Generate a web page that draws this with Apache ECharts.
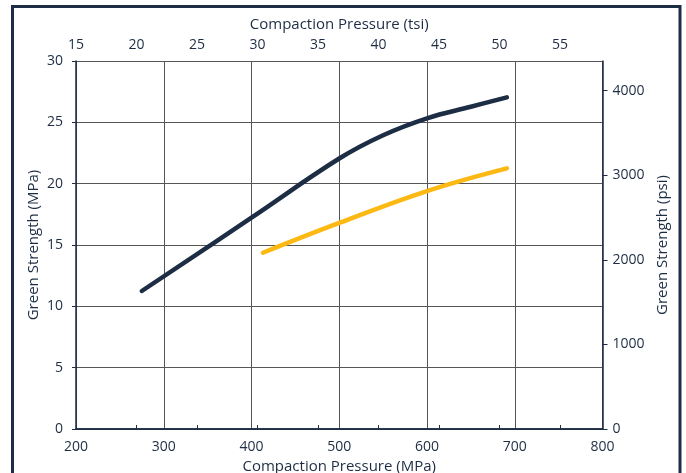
<!DOCTYPE html>
<html>
<head>
<meta charset="utf-8">
<script src="https://cdn.jsdelivr.net/npm/echarts@6/dist/echarts.min.js"></script>
<style>
html,body{margin:0;padding:0;background:#fff;}
#chart{width:686px;height:473px;}
</style>
</head>
<body>
<div id="chart"></div>
<script>
// Data (Compaction pressure in MPa, green strength in MPa)
const darkPressure = [275, 400, 500, 550, 600, 650, 691];
const darkStrength = [11.25, 17.23, 22.05, 23.95, 25.33, 26.27, 27.04];
const yellowPressure = [413, 500, 600, 691];
const yellowStrength = [14.37, 16.80, 19.40, 21.25];

const MPA_PER_TSI = 13.7895;
const PSI_PER_MPA = 145.038;
const xMin = 200, xMax = 800;
const yMin = 0, yMax = 30;
const tsiMin = 15;

const navy = '#1d2d44';
const yellow = '#fdb913';
const font = 'Open Sans';

function pairs(xs, ys){ return xs.map((x,i)=>[x, ys[i]]); }

const chart = echarts.init(document.getElementById('chart'));
chart.setOption({
  animation: false,
  textStyle: {fontFamily: font, color: navy},
  grid: {left: 76, right: 83.5, top: 61, bottom: 44, containLabel: false, outerBoundsMode: 'none'},
  graphic: [{
    type: 'rect',
    shape: {x: 12.5, y: 6.5, width: 667.5, height: 520},
    style: {fill: 'none', stroke: navy, lineWidth: 3},
    silent: true
  }],
  xAxis: [{
    type: 'value', position: 'bottom', min: xMin, max: xMax, interval: 100,
    name: 'Compaction Pressure (MPa)', nameLocation: 'middle', nameGap: 30,
    nameTextStyle: {fontSize: 15, color: navy, fontFamily: font},
    axisLine: {show: true, lineStyle: {color: navy, width: 1.5}},
    axisTick: {show: false},
    axisLabel: {fontSize: 14, color: navy, margin: 11, fontFamily: font},
    splitLine: {show: true, lineStyle: {color: '#555', width: 1}}
  }, {
    type: 'value', position: 'top', min: tsiMin, max: tsiMin + (xMax - xMin) / MPA_PER_TSI, interval: 5,
    name: 'Compaction Pressure (tsi)', nameLocation: 'middle', nameGap: 29,
    nameTextStyle: {fontSize: 15, color: navy, fontFamily: font},
    axisLine: {show: true, lineStyle: {color: navy, width: 1.5}},
    axisTick: {show: true, inside: false, length: 4, lineStyle: {color: navy}},
    axisLabel: {fontSize: 14, color: navy, margin: 9, showMaxLabel: false, fontFamily: font},
    splitLine: {show: false}
  }],
  yAxis: [{
    type: 'value', position: 'left', min: yMin, max: yMax, interval: 5,
    name: 'Green Strength (MPa)', nameLocation: 'middle', nameGap: 35, nameMoveOverlap: false,
    nameTextStyle: {fontSize: 15, color: navy, fontFamily: font},
    axisLine: {show: true, lineStyle: {color: navy, width: 1.5}},
    axisTick: {show: true, length: 4, lineStyle: {color: navy}},
    axisLabel: {fontSize: 14, color: navy, margin: 13, fontFamily: font},
    splitLine: {show: true, lineStyle: {color: '#555', width: 1}}
  }, {
    type: 'value', position: 'right', min: yMin * PSI_PER_MPA, max: yMax * PSI_PER_MPA, interval: 1000,
    name: 'Green Strength (psi)', nameLocation: 'middle', nameGap: 53,
    nameTextStyle: {fontSize: 15, color: navy, fontFamily: font},
    axisLine: {show: true, lineStyle: {color: navy, width: 1.5}},
    axisTick: {show: true, length: 5, lineStyle: {color: navy}},
    axisLabel: {fontSize: 14, color: navy, margin: 10, showMaxLabel: false, fontFamily: font,
      formatter: v => String(Math.round(v))},
    splitLine: {show: false}
  }],
  series: [{
    type: 'line', xAxisIndex: 0, yAxisIndex: 0, smooth: 0.4, showSymbol: false,
    data: pairs(darkPressure, darkStrength),
    lineStyle: {color: navy, width: 4.5, cap: 'round'}, z: 3
  }, {
    type: 'line', xAxisIndex: 0, yAxisIndex: 0, smooth: 0.4, showSymbol: false,
    data: pairs(yellowPressure, yellowStrength),
    lineStyle: {color: yellow, width: 4.5, cap: 'round'}, z: 3
  }]
});
</script>
</body>
</html>
